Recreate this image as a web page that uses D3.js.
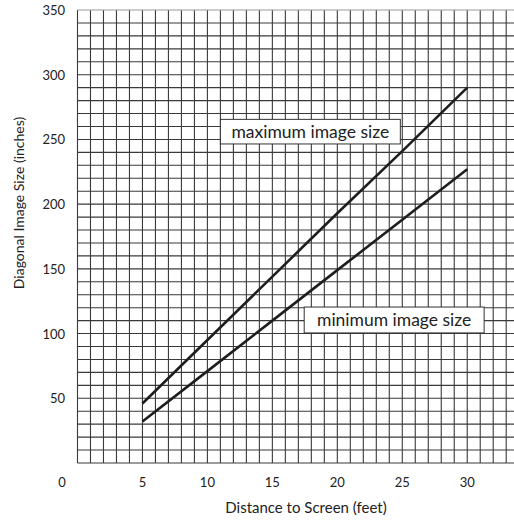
<!DOCTYPE html>
<html>
<head>
<meta charset="utf-8">
<script src="https://cdn.jsdelivr.net/npm/d3@7"></script>
<style>
  body { margin: 0; background: #fff; }
  text { font-family: "Lato", "Open Sans", sans-serif; fill: #222; }
</style>
</head>
<body>
<div id="viz"></div>
<script>
// distance to screen (feet)
const distances = [5, 10, 15, 20, 25, 30];
// diagonal image size (inches)
const maxSize = [46, 95, 144, 193, 241, 290];
const minSize = [32, 71, 110, 149, 188, 227];

const xTicks = [5, 10, 15, 20, 25, 30];
const yTicks = [50, 100, 150, 200, 250, 300, 350];

const width = 514;
const height = 523;

const svg = d3.select("#viz")
  .append("svg")
  .attr("width", width)
  .attr("height", height);

const x = d3.scaleLinear().domain([0, 33.6]).range([77.5, 514]);
const y = d3.scaleLinear().domain([0, 350]).range([463, 10]);

// grid, one line per foot and per 10 inches
const grid = svg.append("g").attr("stroke", "#3a3a3a").attr("stroke-width", 1.1);

grid.selectAll(".v")
  .data(d3.range(0, 34))
  .enter()
  .append("line")
  .attr("x1", d => x(d)).attr("x2", d => x(d))
  .attr("y1", y(0)).attr("y2", y(350));

grid.selectAll(".h")
  .data(d3.range(0, 351, 10))
  .enter()
  .append("line")
  .attr("x1", x(0)).attr("x2", width)
  .attr("y1", d => y(d)).attr("y2", d => y(d))
  .attr("stroke", d => d === 350 ? "#999" : null);

// tick labels
svg.selectAll(".xt")
  .data(xTicks)
  .enter()
  .append("text")
  .attr("x", d => x(d))
  .attr("y", 487)
  .attr("text-anchor", "middle")
  .attr("font-size", 13)
  .text(d => d);

svg.append("text")
  .attr("x", 62).attr("y", 487)
  .attr("text-anchor", "middle")
  .attr("font-size", 13)
  .text("0");

svg.selectAll(".yt")
  .data(yTicks)
  .enter()
  .append("text")
  .attr("x", 65)
  .attr("y", d => y(d) + 5)
  .attr("text-anchor", "end")
  .attr("font-size", 13)
  .text(d => d);

// axis titles
svg.append("text")
  .attr("x", 306).attr("y", 513)
  .attr("text-anchor", "middle")
  .attr("font-size", 15)
  .text("Distance to Screen (feet)");

svg.append("text")
  .attr("transform", "translate(24,203) rotate(-90)")
  .attr("text-anchor", "middle")
  .attr("font-size", 14)
  .text("Diagonal Image Size (inches)");

// curves
const line = d3.line()
  .x((d, i) => x(distances[i]))
  .y(d => y(d));

[maxSize, minSize].forEach(series => {
  svg.append("path")
    .attr("d", line(series))
    .attr("fill", "none")
    .attr("stroke", "#1e1e1e")
    .attr("stroke-width", 2.6);
});

// labels in boxes
const labels = [
  { text: "maximum image size", x0: 11, x1: 24.85, y0: 246.5, y1: 265.5 },
  { text: "minimum image size", x0: 17.45, x1: 31.3, y0: 100.5, y1: 120.5 }
];

labels.forEach(l => {
  svg.append("rect")
    .attr("x", x(l.x0))
    .attr("y", y(l.y1))
    .attr("width", x(l.x1) - x(l.x0))
    .attr("height", y(l.y0) - y(l.y1))
    .attr("fill", "#fff")
    .attr("stroke", "#333")
    .attr("stroke-width", 1);
  svg.append("text")
    .attr("x", (x(l.x0) + x(l.x1)) / 2)
    .attr("y", (y(l.y0) + y(l.y1)) / 2 + 6)
    .attr("text-anchor", "middle")
    .attr("font-size", 17.5)
    .text(l.text);
});
</script>
</body>
</html>
